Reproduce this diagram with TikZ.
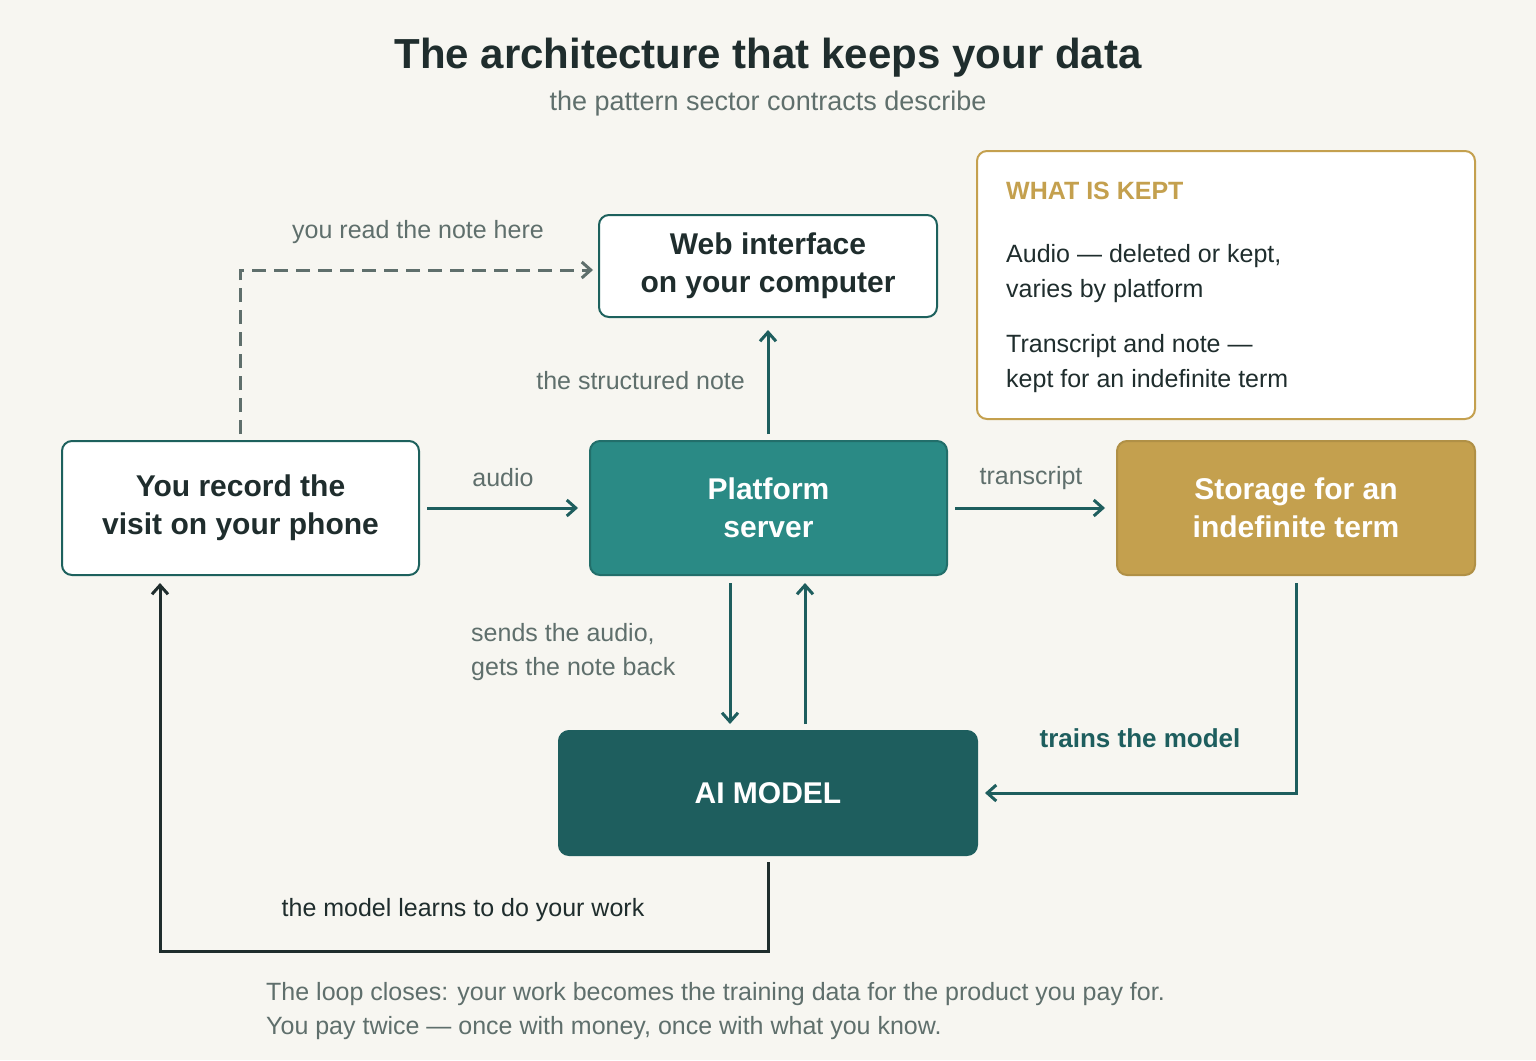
\documentclass[tikz,border=0pt]{standalone}
\usepackage{fontspec}
\setmainfont{Liberation Sans}
\usetikzlibrary{arrows.meta}
\definecolor{bg}{HTML}{F7F6F1}
\definecolor{teal}{HTML}{2A8A85}
\definecolor{dteal}{HTML}{1E5E5E}
\definecolor{gold}{HTML}{C4A04E}
\definecolor{ink}{HTML}{1F2D2D}
\definecolor{gray}{HTML}{5F6F6C}
\begin{document}
\begin{tikzpicture}[x=1pt,y=-1pt,
 box/.style={draw,line width=2pt,rounded corners=10pt,align=center,inner sep=0pt,font=\bfseries\fontsize{30}{38}\selectfont},
 lab/.style={font=\fontsize{25}{32}\selectfont,text=gray,inner sep=0pt},
 arr/.style={line width=3pt,-{Straight Barb[length=9pt,width=16pt]}}]
\useasboundingbox[fill=bg] (0,0) rectangle (1536,1060);
\node[font=\bfseries\fontsize{42}{46}\selectfont,text=ink] (t) at (768,58) {The architecture that keeps your data};
\node[font=\fontsize{27}{32}\selectfont,text=gray] (st) at (768,104) {the pattern sector contracts describe};
\node[box,draw=teal!70!black,fill=white,text=ink,minimum width=357pt,minimum height=134pt] (ph) at (240.5,508) {You record the\\visit on your phone};
\node[box,draw=teal!80!black,fill=teal,text=white,minimum width=357pt,minimum height=134pt] (pl) at (768.5,508) {Platform\\server};
\node[box,draw=gold!90!black,fill=gold,text=white,minimum width=358pt,minimum height=134pt] (sg) at (1296,508) {Storage for an\\indefinite term};
\node[box,draw=teal!70!black,fill=white,text=ink,minimum width=338pt,minimum height=102pt] (web) at (768,266) {Web interface\\on your computer};
\node[box,draw=dteal,fill=dteal,text=white,minimum width=418pt,minimum height=124pt] (ai) at (768,793) {AI MODEL};
\node[box,draw=gold,fill=white,minimum width=498pt,minimum height=268pt] (kept) at (1226,285) {};
\node[anchor=west,font=\bfseries\fontsize{25}{30}\selectfont,text=gold,inner sep=0pt] (kh) at (1006,191) {WHAT IS KEPT};
\node[anchor=north west,align=left,font=\fontsize{25}{35}\selectfont,text=ink,inner sep=0pt] (k1) at (1006,244) {Audio — deleted or kept,\\varies by platform};
\node[anchor=north west,align=left,font=\fontsize{25}{35}\selectfont,text=ink,inner sep=0pt] (k2) at (1006,334) {Transcript and note —\\kept for an indefinite term};
\coordinate (a1) at (427,508); \coordinate (a2) at (578,508);
\draw[arr,dteal] (a1) -- (a2);
\node[lab] (la) at (503,478) {audio};
\coordinate (b1) at (955,508); \coordinate (b2) at (1105,508);
\draw[arr,dteal] (b1) -- (b2);
\node[lab] (lb) at (1031,478) {transcript};
\coordinate (c1) at (768,434); \coordinate (c2) at (768,330);
\draw[arr,dteal] (c1) -- (c2);
\node[lab,anchor=east] (lc) at (745,381) {the structured note};
\coordinate (d1) at (240,434); \coordinate (d2) at (593,270);
\draw[line width=3pt,gray,dash pattern=on 14pt off 8pt,-{Straight Barb[length=9pt,width=16pt]}] (d1) |- (d2);
\node[lab] (ld) at (418,232) {you read the note here};
\coordinate (e1) at (730,583); \coordinate (e2) at (730,724);
\draw[arr,dteal] (e1) -- (e2);
\coordinate (f1) at (805,724); \coordinate (f2) at (805,583);
\draw[arr,dteal] (f1) -- (f2);
\node[lab,anchor=west,align=left,font=\fontsize{25}{34}\selectfont] (le) at (471,652) {sends the audio,\\gets the note back};
\coordinate (g1) at (1296,583); \coordinate (g2) at (985,793);
\draw[arr,dteal] (g1) |- (g2);
\node[font=\bfseries\fontsize{26}{30}\selectfont,text=dteal,inner sep=0pt] (lg) at (1140,738) {trains the model};
\coordinate (h1) at (768,862); \coordinate (h2) at (160,951); \coordinate (h3) at (160,583);
\draw[arr,ink] (h1) |- (h2) -- (h3);
\node[lab,text=ink] (lh) at (463,910) {the model learns to do your work};
\node[anchor=north west,align=left,font=\fontsize{25}{34}\selectfont,text=gray,inner sep=0pt] (ft) at (266,982) {The loop closes: your work becomes the training data for the product you pay for.\\You pay twice — once with money, once with what you know.};
\end{tikzpicture}
\end{document}
